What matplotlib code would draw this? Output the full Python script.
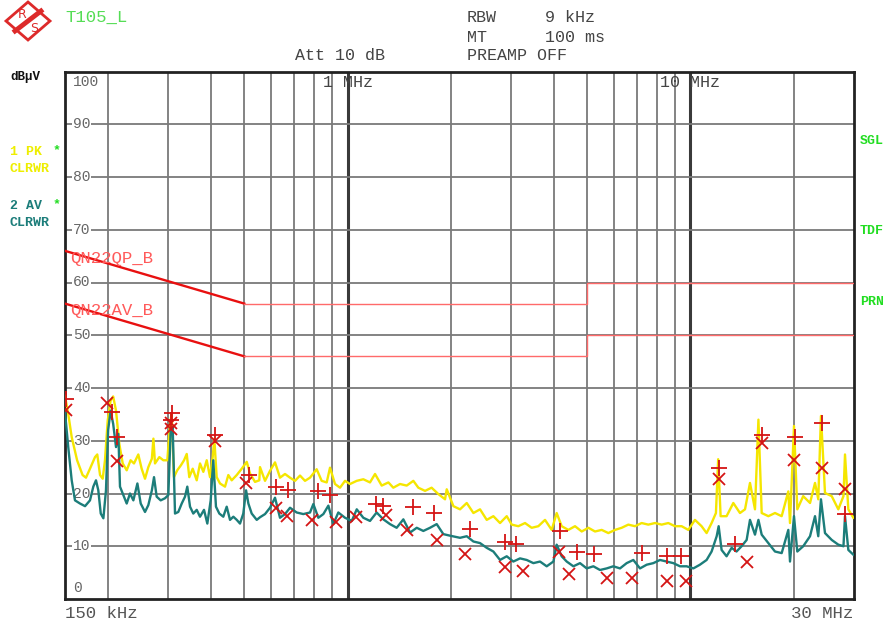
import numpy as np
import matplotlib.pyplot as plt
from matplotlib.patches import Polygon
from matplotlib.lines import Line2D

# ---- data (frequency in MHz, level in dBuV) ----
pk_freq = [0.150, 0.1533, 0.1569, 0.1627, 0.1688, 0.1727, 0.1774, 0.1835, 0.1863, 0.1898,
           0.1932, 0.1962, 0.1998, 0.2037, 0.2073, 0.2113, 0.2160, 0.2210, 0.2270, 0.2330,
           0.2384, 0.2454, 0.2510, 0.2567, 0.2625, 0.2688, 0.2716, 0.2745, 0.2826, 0.2903,
           0.2982, 0.3036, 0.3070, 0.3118, 0.3187, 0.3263, 0.3336, 0.3397, 0.3456, 0.3536,
           0.3633, 0.3714, 0.3798, 0.3885, 0.3972, 0.4044, 0.4088, 0.4154, 0.4248, 0.4393,
           0.4492, 0.4595, 0.4753, 0.4915, 0.5083, 0.5196, 0.5373, 0.5530, 0.5557, 0.5747,
           0.5943, 0.6146, 0.6355, 0.6572, 0.6797, 0.7029, 0.7269, 0.7517, 0.7774, 0.813,
           0.8406, 0.8696, 0.8891, 0.9195, 0.9509, 0.9834, 1.017, 1.064, 1.112, 1.163,
           1.203, 1.258, 1.316, 1.360, 1.423, 1.488, 1.556, 1.609, 1.683, 1.759,
           1.840, 1.925, 1.947, 2.036, 2.129, 2.227, 2.329, 2.435, 2.547, 2.663,
           2.785, 2.913, 3.012, 3.149, 3.294, 3.444, 3.602, 3.767, 3.940, 4.074,
           4.213, 4.406, 4.608, 4.820, 5.041, 5.270, 5.512, 5.764, 6.027, 6.303,
           6.591, 6.893, 7.208, 7.538, 7.884, 8.245, 8.622, 9.017, 9.429, 9.862,
           10.31, 10.78, 11.15, 11.53, 11.87, 12.05, 12.25, 12.75, 13.34, 13.95,
           14.43, 14.92, 15.43, 15.79, 16.14, 16.88, 17.65, 18.46, 19.30, 19.52,
           20.05, 20.50, 21.33, 22.33, 23.09, 23.60, 24.03, 24.69, 25.83, 27.00,
           27.95, 28.24, 28.88, 29.87]
pk_level = [38.5, 35.1, 30.7, 26.3, 23.5, 23.0, 24.7, 26.9, 27.4, 23.5,
            22.8, 26.3, 33.8, 37.6, 38.4, 35.7, 29.4, 25.7, 24.4, 26.3,
            25.7, 27.4, 24.7, 22.8, 25.0, 26.6, 30.4, 25.7, 26.9, 26.3,
            26.3, 33.2, 35.1, 23.1, 24.4, 25.3, 26.3, 27.5, 23.1, 24.7,
            22.5, 25.7, 24.1, 26.3, 23.1, 26.9, 30.4, 23.1, 21.9, 21.3,
            23.5, 22.5, 23.5, 24.7, 26.0, 23.8, 22.2, 22.5, 25.0, 22.4,
            24.3, 25.9, 23.0, 23.7, 23.0, 22.4, 23.4, 22.4, 23.0, 24.6,
            22.4, 22.1, 24.9, 21.8, 21.1, 22.4, 21.8, 22.4, 22.7, 22.1,
            23.7, 21.5, 22.1, 21.1, 21.8, 21.5, 22.4, 21.1, 20.5, 21.1,
            19.9, 18.9, 20.8, 17.6, 17.0, 18.2, 16.3, 17.0, 15.0, 15.7,
            14.4, 15.7, 14.1, 13.8, 14.4, 13.5, 13.8, 15.0, 13.1, 16.3,
            13.8, 13.1, 13.8, 12.8, 13.5, 12.8, 13.1, 12.5, 13.1, 13.5,
            14.1, 13.8, 14.4, 14.1, 14.4, 14.1, 14.4, 13.8, 13.8, 13.1,
            15.0, 13.8, 12.5, 14.4, 16.3, 26.5, 15.7, 15.7, 18.2, 16.3,
            17.0, 22.0, 17.0, 34.0, 16.3, 15.7, 16.3, 15.7, 20.4, 14.4,
            32.8, 17.0, 19.5, 18.2, 22.0, 18.9, 34.7, 20.1, 19.5, 17.0,
            19.5, 27.4, 17.0, 15.4]

av_freq = [0.150, 0.1533, 0.1569, 0.1604, 0.1659, 0.1716, 0.1774, 0.1814, 0.1847, 0.1876,
           0.1907, 0.1941, 0.1975, 0.2004, 0.2037, 0.2073, 0.2113, 0.2146, 0.2170, 0.2219,
           0.2270, 0.2321, 0.2374, 0.2439, 0.2494, 0.2567, 0.2625, 0.2688, 0.2727, 0.2776,
           0.2852, 0.2936, 0.3002, 0.3050, 0.3091, 0.3140, 0.3210, 0.3285, 0.3358, 0.3410,
           0.3473, 0.3550, 0.3633, 0.3714, 0.3815, 0.3901, 0.3990, 0.4060, 0.4134, 0.4228,
           0.4343, 0.4443, 0.4543, 0.4646, 0.4753, 0.4858, 0.4967, 0.5060, 0.5139, 0.5255,
           0.5436, 0.5557, 0.5747, 0.5943, 0.6146, 0.6355, 0.6572, 0.6797, 0.7108, 0.7432,
           0.7774, 0.7950, 0.8220, 0.8503, 0.8794, 0.9091, 0.9401, 0.9834, 1.029, 1.064,
           1.112, 1.163, 1.216, 1.272, 1.330, 1.391, 1.455, 1.522, 1.592, 1.664,
           1.740, 1.820, 1.903, 1.991, 2.129, 2.227, 2.329, 2.435, 2.547, 2.663,
           2.785, 2.913, 3.045, 3.185, 3.331, 3.484, 3.643, 3.810, 3.985, 4.074,
           4.213, 4.358, 4.557, 4.765, 4.984, 5.212, 5.450, 5.700, 5.960, 6.233,
           6.518, 6.816, 7.129, 7.455, 7.796, 8.153, 8.526, 8.917, 9.325, 9.752,
           10.20, 10.66, 11.15, 11.53, 11.93, 12.09, 12.33, 12.75, 13.19, 13.63,
           14.10, 14.59, 14.92, 15.43, 15.79, 16.14, 16.88, 17.65, 18.46, 19.30,
           19.52, 20.05, 20.50, 21.33, 22.33, 23.09, 23.60, 24.03, 24.69, 25.83,
           27.00, 27.95, 28.24, 28.88, 29.87]
av_level = [35.4, 28.8, 22.5, 18.7, 18.1, 17.6, 18.7, 21.3, 22.5, 20.6,
            16.2, 15.3, 20.6, 32.0, 35.7, 33.2, 28.8, 31.3, 21.3, 19.7,
            18.1, 20.0, 18.7, 21.9, 18.1, 16.5, 17.8, 20.6, 23.1, 19.4,
            18.7, 19.1, 19.7, 31.9, 32.6, 16.2, 16.5, 18.1, 19.4, 21.3,
            17.5, 16.2, 16.9, 15.6, 16.9, 14.3, 18.7, 26.3, 17.5, 16.2,
            15.6, 17.5, 15.0, 15.6, 15.0, 14.3, 16.2, 20.6, 18.1, 16.2,
            15.0, 15.5, 16.1, 17.3, 19.2, 15.4, 16.1, 17.3, 16.4, 16.1,
            16.4, 18.0, 15.4, 16.1, 17.7, 14.2, 16.4, 15.4, 14.8, 17.0,
            15.4, 14.8, 16.4, 15.1, 14.2, 13.5, 15.1, 12.6, 13.5, 12.9,
            13.5, 14.2, 12.3, 12.0, 11.6, 11.9, 10.9, 10.6, 9.7, 9.0,
            7.4, 8.1, 7.1, 7.7, 7.4, 6.8, 7.1, 6.2, 7.1, 10.3,
            8.1, 7.1, 6.2, 6.8, 5.8, 6.2, 5.5, 5.8, 6.2, 5.8,
            6.8, 7.4, 5.8, 6.5, 6.8, 7.4, 7.1, 6.8, 6.2, 6.2,
            5.8, 6.5, 7.4, 9.0, 11.9, 13.8, 9.3, 8.1, 9.7, 9.0,
            10.0, 11.2, 15.0, 12.2, 15.0, 12.2, 10.6, 9.0, 8.7, 13.1,
            7.1, 15.7, 9.0, 10.0, 11.9, 15.7, 11.9, 18.9, 12.5, 11.2,
            10.3, 10.0, 15.7, 9.3, 8.4]

# peak list markers
pk_mark_freq = [0.1511, 0.2052, 0.2132, 0.3070, 0.3056, 0.4107, 0.5172, 0.6188, 0.6720, 0.8186,
                0.8891, 1.211, 1.272, 1.556, 1.788, 2.277, 2.880, 3.100, 4.166, 4.660,
                5.235, 7.208, 8.526, 9.368, 12.14, 13.49, 16.14, 20.19, 24.14, 28.24]
pk_mark_level = [38.0, 35.5, 30.7, 35.2, 34.0, 31.0, 23.5, 21.2, 20.7, 20.5,
                 19.7, 18.1, 17.6, 17.4, 16.3, 13.3, 10.9, 10.5, 12.8, 8.9,
                 8.5, 8.7, 8.1, 8.1, 24.9, 10.5, 31.0, 30.7, 33.3, 16.1]
av_mark_freq = [0.1511, 0.1993, 0.2124, 0.3050, 0.3062, 0.4107, 0.5060, 0.6188, 0.6648, 0.7891,
                0.9256, 1.059, 1.295, 1.488, 1.820, 2.202, 2.880, 3.259, 4.147, 4.426,
                5.700, 6.771, 8.526, 9.689, 12.14, 14.66, 16.14, 20.09, 24.14, 28.24]
av_mark_level = [35.8, 37.1, 26.2, 33.4, 32.2, 30.0, 21.9, 17.3, 15.7, 15.0,
                 14.6, 15.5, 15.9, 13.0, 11.1, 8.6, 6.1, 5.4, 8.9, 4.8,
                 3.9, 4.0, 3.5, 3.5, 22.8, 7.0, 29.5, 26.3, 24.9, 20.9]

# limit lines (QP and AV)
lim_slope_freq = [0.15, 0.5]
qp_slope = [66, 56]
av_slope = [56, 46]
lim_flat_freq = [0.5, 5, 5, 30]
qp_flat = [56, 56, 60, 60]
av_flat = [46, 46, 50, 50]

grid_freqs = [0.2, 0.3, 0.4, 0.5, 0.6, 0.7, 0.8, 0.9, 2, 3, 4, 5, 6, 7, 8, 9, 20]
y_ticks = [0, 10, 20, 30, 40, 50, 60, 70, 80, 90, 100]

W, H = 892, 625
mono = ['Liberation Mono', 'DejaVu Sans Mono']
fig = plt.figure(figsize=(W / 100, H / 100), dpi=100)


def px(x, y):
    return x / W, 1 - y / H


def ftext(x, y, s, **kw):
    kw.setdefault('family', mono)
    kw.setdefault('va', 'center')
    fig.text(*px(x, y), s, **kw)


ax = fig.add_axes([65 / W, 1 - 599 / H, (854 - 65) / W, (599 - 71.5) / H])
ax.set_xscale('log')
ax.set_xlim(0.15, 30)
ax.set_ylim(0, 100)
ax.xaxis.set_major_locator(plt.NullLocator())
ax.xaxis.set_minor_locator(plt.NullLocator())
ax.yaxis.set_major_locator(plt.NullLocator())
for s in ax.spines.values():
    s.set_linewidth(2)
    s.set_color('#222222')

for f in grid_freqs:
    ax.axvline(f, color='#7a7a7a', lw=1.3, zorder=1)
for f in [1, 10]:
    ax.axvline(f, color='#3a3a3a', lw=2.2, zorder=1)
for v in y_ticks[1:-1]:
    ax.axhline(v, color='#7a7a7a', lw=1.3, zorder=1)

# y tick labels drawn inside the grid
ytr = ax.get_yaxis_transform()
for v in y_ticks:
    yy = v
    if v == 100:
        yy = 98
    if v == 0:
        yy = 2.1
    ax.text(0.010, yy, str(v), transform=ytr, family=mono, fontsize=10.5,
            color='#666666', va='center', ha='left', zorder=2,
            bbox=dict(facecolor='white', edgecolor='none', pad=0.5) if v not in (0, 100) else None)

ax.text(1, 98, '1 MHz', family=mono, fontsize=12, color='#444444', ha='center', va='center',
        zorder=2)
ax.text(10, 98, '10 MHz', family=mono, fontsize=12, color='#444444', ha='center', va='center',
        zorder=2)

# limit lines
ax.plot(lim_slope_freq, qp_slope, color='#e81010', lw=1.7, zorder=3)
ax.plot(lim_slope_freq, av_slope, color='#e81010', lw=1.7, zorder=3)
ax.plot(lim_flat_freq, qp_flat, color='#ff6a6a', lw=1.0, zorder=3)
ax.plot(lim_flat_freq, av_flat, color='#ff6a6a', lw=1.0, zorder=3)
ax.text(0.006, 64.6, 'QN22QP_B', transform=ytr, family=mono, fontsize=12.5,
        color='#ff5a5a', va='center', zorder=3)
ax.text(0.006, 54.6, 'QN22AV_B', transform=ytr, family=mono, fontsize=12.5,
        color='#ff5a5a', va='center', zorder=3)

# traces
ax.plot(pk_freq, pk_level, color='#f5e600', lw=1.7, zorder=4)
ax.plot(av_freq, av_level, color='#1c7d7a', lw=1.7, zorder=5)
ax.plot(pk_mark_freq, pk_mark_level, ls='none', marker='+', ms=11, mew=1.3,
        color='#d41414', zorder=6)
ax.plot(av_mark_freq, av_mark_level, ls='none', marker='x', ms=8.5, mew=1.3,
        color='#d41414', zorder=6)

# header texts
ftext(65, 17.5, 'T105_L', fontsize=12.5, color='#55dd55')
ftext(295, 56, 'Att 10 dB', fontsize=12, color='#444444')
ftext(467, 17.5, 'RBW', fontsize=12, color='#444444')
ftext(545, 17.5, '9 kHz', fontsize=12, color='#444444')
ftext(467, 37, 'MT', fontsize=12, color='#444444')
ftext(545, 37, '100 ms', fontsize=12, color='#444444')
ftext(467, 56, 'PREAMP OFF', fontsize=12, color='#444444')

# bottom
ftext(65, 613, '150 kHz', fontsize=12.5, color='#555555')
ftext(853, 613, '30 MHz', fontsize=12.5, color='#555555', ha='right')

# left side trace info
ftext(10, 77, 'dBµV', fontsize=9, color='#111111', weight='bold')
ftext(10, 152, '1 PK', fontsize=9.5, color='#eeee00', weight='bold')
ftext(53, 150, '*', fontsize=9.5, color='#22dd22', weight='bold')
ftext(10, 169, 'CLRWR', fontsize=9.5, color='#eeee00', weight='bold')
ftext(10, 206, '2 AV', fontsize=9.5, color='#1c7d7a', weight='bold')
ftext(53, 204, '*', fontsize=9.5, color='#22dd22', weight='bold')
ftext(10, 223, 'CLRWR', fontsize=9.5, color='#1c7d7a', weight='bold')

# right side
ftext(860, 141, 'SGL', fontsize=9.5, color='#22dd22', weight='bold')
ftext(860, 231, 'TDF', fontsize=9.5, color='#22dd22', weight='bold')
ftext(860, 302, 'PRN', fontsize=9.5, color='#22dd22', weight='bold')

# R&S logo
diamond = [px(28, 2), px(50, 21), px(28, 40), px(6, 21)]
fig.patches.append(Polygon(diamond, closed=True, facecolor='white', edgecolor='#dd2a2a',
                           lw=2, transform=fig.transFigure, figure=fig))
fig.lines.append(Line2D([px(15, 31)[0], px(41, 11)[0]], [px(15, 31)[1], px(41, 11)[1]],
                        color='#dd2a2a', lw=3.5, transform=fig.transFigure, figure=fig))
ftext(22, 14, 'R', fontsize=9, color='#dd2a2a', ha='center', family=['DejaVu Sans'])
ftext(34, 28, 'S', fontsize=9, color='#dd2a2a', ha='center', family=['DejaVu Sans'])

fig.savefig('out.png', dpi=100)
